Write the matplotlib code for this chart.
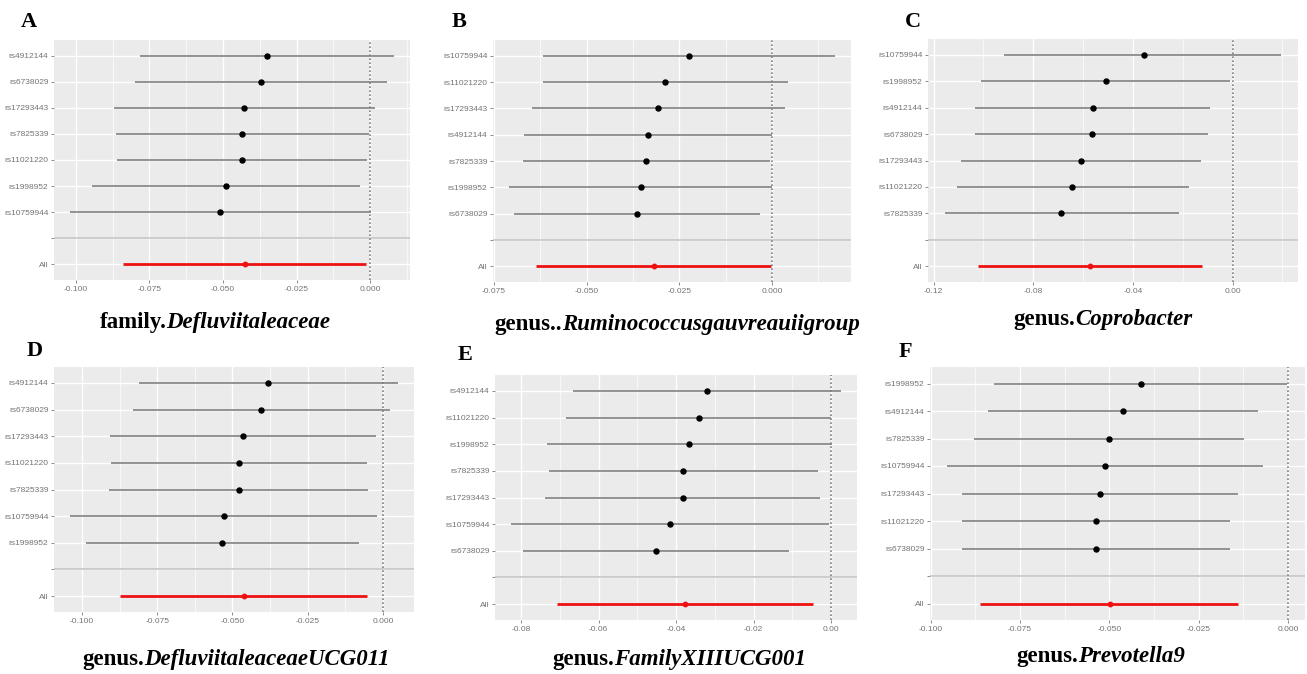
import matplotlib
matplotlib.use("Agg")
import matplotlib.pyplot as plt
from matplotlib.ticker import MultipleLocator, FuncFormatter

W, H = 1307, 674

# values: beta, lower CI, upper CI (top row first)
snps_a = ["rs4912144", "rs6738029", "rs17293443", "rs7825339", "rs11021220", "rs1998952", "rs10759944"]
b_a = [-0.0351, -0.0371, -0.0429, -0.0434, -0.0435, -0.0491, -0.0509]
lo_a = [-0.0781, -0.0799, -0.0870, -0.0865, -0.0861, -0.0946, -0.1019]
hi_a = [0.0080, 0.0058, 0.0015, -0.0005, -0.0010, -0.0036, 0.0001]
all_a = [-0.0426, -0.0838, -0.0016]

snps_b = ["rs10759944", "rs11021220", "rs17293443", "rs4912144", "rs7825339", "rs1998952", "rs6738029"]
b_b = [-0.0224, -0.0288, -0.0308, -0.0334, -0.0339, -0.0353, -0.0364]
lo_b = [-0.0618, -0.0618, -0.0649, -0.0668, -0.0672, -0.0709, -0.0696]
hi_b = [0.0169, 0.0042, 0.0034, 0.0000, -0.0006, 0.0000, -0.0032]
all_b = [-0.0319, -0.0637, -0.0002]

snps_c = ["rs10759944", "rs1998952", "rs4912144", "rs6738029", "rs17293443", "rs11021220", "rs7825339"]
b_c = [-0.0357, -0.0510, -0.0561, -0.0563, -0.0609, -0.0644, -0.0689]
lo_c = [-0.0917, -0.1010, -0.1032, -0.1032, -0.1090, -0.1107, -0.1155]
hi_c = [0.0195, -0.0012, -0.0092, -0.0099, -0.0128, -0.0175, -0.0215]
all_c = [-0.0571, -0.1021, -0.0123]

snps_d = ["rs4912144", "rs6738029", "rs17293443", "rs11021220", "rs7825339", "rs10759944", "rs1998952"]
b_d = [-0.0382, -0.0404, -0.0466, -0.0479, -0.0479, -0.0529, -0.0534]
lo_d = [-0.0811, -0.0832, -0.0908, -0.0904, -0.0909, -0.1039, -0.0988]
hi_d = [0.0049, 0.0024, -0.0024, -0.0053, -0.0049, -0.0018, -0.0080]
all_d = [-0.0463, -0.0873, -0.0053]

snps_e = ["rs4912144", "rs11021220", "rs1998952", "rs7825339", "rs17293443", "rs10759944", "rs6738029"]
b_e = [-0.0321, -0.0342, -0.0368, -0.0382, -0.0383, -0.0415, -0.0451]
lo_e = [-0.0667, -0.0684, -0.0733, -0.0727, -0.0738, -0.0825, -0.0794]
hi_e = [0.0024, 0.0000, 0.0001, -0.0035, -0.0028, -0.0006, -0.0108]
all_e = [-0.0378, -0.0708, -0.0048]

snps_f = ["rs1998952", "rs4912144", "rs7825339", "rs10759944", "rs17293443", "rs11021220", "rs6738029"]
b_f = [-0.0411, -0.0461, -0.0501, -0.0511, -0.0525, -0.0536, -0.0537]
lo_f = [-0.0822, -0.0840, -0.0879, -0.0954, -0.0911, -0.0912, -0.0913]
hi_f = [-0.0002, -0.0083, -0.0123, -0.0071, -0.0141, -0.0163, -0.0162]
all_f = [-0.0499, -0.0861, -0.0140]

letters = ["A", "B", "C", "D", "E", "F"]
title_plain = ["family.", "genus..", "genus.", "genus.", "genus.", "genus."]
title_ital = ["Defluviitaleaceae", "Ruminococcusgauvreauiigroup", "Coprobacter",
              "DefluviitaleaceaeUCG011", "FamilyXIIIUCG001", "Prevotella9"]
steps = [0.025, 0.025, 0.04, 0.025, 0.02, 0.025]
decimals = [3, 3, 2, 3, 2, 3]

data = [(snps_a, b_a, lo_a, hi_a, all_a), (snps_b, b_b, lo_b, hi_b, all_b),
        (snps_c, b_c, lo_c, hi_c, all_c), (snps_d, b_d, lo_d, hi_d, all_d),
        (snps_e, b_e, lo_e, hi_e, all_e), (snps_f, b_f, lo_f, hi_f, all_f)]

# layout in pixels: axes box (x0, x1, ytop, ybottom), letter centre, title centre/baseline
boxes = [(54, 410, 40, 280), (493, 851, 40, 282), (928, 1298, 39, 282),
         (54, 414, 367, 612), (495, 857, 375, 620), (930, 1305, 367, 620)]
letter_pos = [(29, 22), (459, 22), (913, 22), (35, 351), (465, 355), (905, 352)]
title_pos = [(215, 328), (677, 330), (1103, 325), (236, 665), (679, 665), (1101, 662)]

plt.rcParams['font.family'] = ['Liberation Sans', 'DejaVu Sans']


def fmt(dec):
    return FuncFormatter(lambda v, p: f"{0.0 if abs(v) < 1e-9 else v:.{dec}f}")


def draw_panel(ax, snps, b, lo, hi, tot, step, dec):
    n = len(snps)
    ys = list(range(n + 2, 2, -1))
    ax.set_facecolor('#ebebeb')
    for s in ax.spines.values():
        s.set_visible(False)
    ax.axhline(2, color='#c6c6c6', lw=1.2, zorder=2)
    ax.hlines(ys, lo, hi, color='#8a8a8a', lw=1.3, zorder=3)
    ax.plot(b, ys, 'o', color='black', ms=3.6, zorder=4)
    ax.hlines([1], [tot[1]], [tot[2]], color='#ee1111', lw=2.0, zorder=3)
    ax.plot([tot[0]], [1], 'o', color='#ee1111', ms=3.2, zorder=4)
    ax.axvline(0, color='#808080', lw=1.2, ls=(0, (1.0, 1.4)), zorder=3)

    xmin = min(min(lo), tot[1], 0)
    xmax = max(max(hi), tot[2], 0)
    pad = (xmax - xmin) * 0.05
    ax.set_xlim(xmin - pad, xmax + pad)
    ax.set_ylim(0.4, n + 2.6)
    ax.set_yticks([1, 2] + ys[::-1])
    ax.set_yticklabels(['All', ''] + snps[::-1])
    ax.xaxis.set_major_locator(MultipleLocator(step))
    ax.xaxis.set_minor_locator(MultipleLocator(step / 2))
    ax.xaxis.set_major_formatter(fmt(dec))
    ax.set_axisbelow(True)
    ax.grid(which='major', color='white', lw=1.0)
    ax.grid(which='minor', axis='x', color='white', lw=0.5)
    ax.tick_params(which='major', labelsize=6, labelcolor='#747474', color='#8a8a8a',
                   length=2.5, width=0.7, pad=1.5)
    ax.tick_params(which='minor', length=0)


fig = plt.figure(figsize=(W / 100, H / 100), dpi=100)
texts = []
for i in range(6):
    x0, x1, yt, yb = boxes[i]
    ax = fig.add_axes([x0 / W, (H - yb) / H, (x1 - x0) / W, (yb - yt) / H])
    snps, b, lo, hi, tot = data[i]
    draw_panel(ax, snps, b, lo, hi, tot, steps[i], decimals[i])

    lx, ly = letter_pos[i]
    fig.text(lx / W, (H - ly) / H, letters[i], family='Liberation Serif', weight='bold',
             fontsize=16, ha='center', va='center')

    t1 = fig.text(0, 0, title_plain[i], family='Liberation Serif', weight='bold',
                  fontsize=16.5, va='baseline')
    t2 = fig.text(0, 0, title_ital[i], family='Liberation Serif', weight='bold',
                  style='italic', fontsize=16.5, va='baseline')
    texts.append((t1, t2, title_pos[i]))

fig.canvas.draw()
r = fig.canvas.get_renderer()
for t1, t2, (cx, by) in texts:
    w1 = t1.get_window_extent(r).width
    w2 = t2.get_window_extent(r).width
    start = cx - (w1 + w2) / 2
    t1.set_position((start / W, (H - by) / H))
    t2.set_position(((start + w1) / W, (H - by) / H))

fig.savefig("out.png", dpi=100, facecolor='white')
